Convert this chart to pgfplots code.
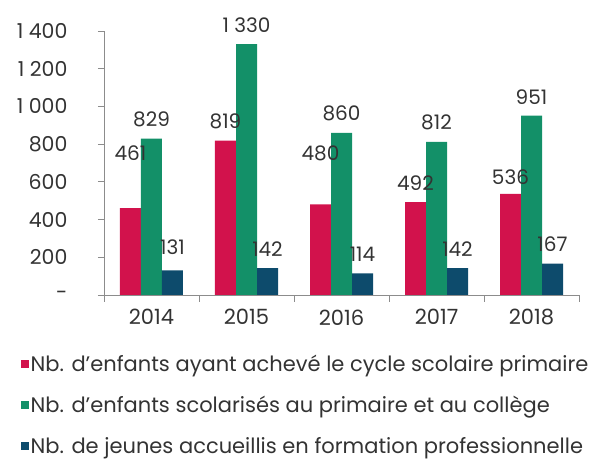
\documentclass[border=0pt]{standalone}
\usepackage{pgfplots}
\pgfplotsset{compat=1.18}
\usepackage{fontspec}
\setmainfont{Poppins}
\definecolor{cpink}{HTML}{D2124C}
\definecolor{cgreen}{HTML}{139068}
\definecolor{cdark}{HTML}{0D4B6C}
\definecolor{ctext}{HTML}{333333}
\definecolor{caxis}{HTML}{8C8C8C}
\begin{document}
\begin{tikzpicture}[font=\fontsize{20.5}{24}\selectfont]
\begin{axis}[
  name=ax,
  scale only axis, width=475pt, height=264pt,
  ybar=0pt, bar width=21pt,
  xmin=-0.5, xmax=4.5, ymin=0, ymax=1400,
  axis x line*=bottom, axis y line*=left,
  axis line style={caxis, line width=0.8pt},
  xtick={0,1,2,3,4}, xticklabels={2014,2015,2016,2017,2018},
  minor xtick={-0.5,0.5,1.5,2.5,3.5,4.5},
  major x tick style={draw=none},
  minor tick length=7pt,
  tick align=outside,
  tick style={caxis, line width=0.8pt},
  ytick={0,200,400,600,800,1000,1200,1400},
  yticklabels={-,200,400,600,800,{1 000},{1 200},{1 400}},
  major tick length=6pt,
  yticklabel style={anchor=east, xshift=-27pt, text=ctext},
  xticklabel style={yshift=-5pt, text=ctext, font=\fontsize{21}{24}\selectfont},
  /pgf/number format/assume math mode=true,
  /pgf/number format/1000 sep={\ },
  nodes near coords,
  visualization depends on={\thisrow{off} \as \myoff},
  every node near coord/.append style={text=ctext, yshift=\myoff pt, font=\fontsize{20}{24}\selectfont},
  legend style={draw=none, fill=none, at={(-0.181,-0.212)}, anchor=north west,
    legend cell align=left, row sep=19pt, font=\fontsize{21}{24}\selectfont, text=ctext},
  legend image code/.code={\fill[#1] (0pt,-4pt) rectangle (7.5pt,4pt);},
]
\addplot[fill=cpink, draw=none] table {
x y off
0 461 44
1 819 8
2 480 40
3 492 8
4 536 6
};
\addplot[fill=cgreen, draw=none] table {
x y off
0 829 8
1 1330 8
2 860 8
3 812 8
4 951 8
};
\addplot[fill=cdark, draw=none] table {
x y off
0 131 12
1 142 8
2 114 8
3 142 8
4 167 8
};
\legend{Nb. d’enfants ayant achevé le cycle scolaire primaire,
        Nb. d’enfants scolarisés au primaire et au collège,
        Nb. de jeunes accueillis en formation professionnelle}
\end{axis}
\pgfresetboundingbox
\path ([xshift=-104pt,yshift=-164pt]ax.south west) rectangle ([xshift=31pt,yshift=31pt]ax.north east);
\end{tikzpicture}
\end{document}
